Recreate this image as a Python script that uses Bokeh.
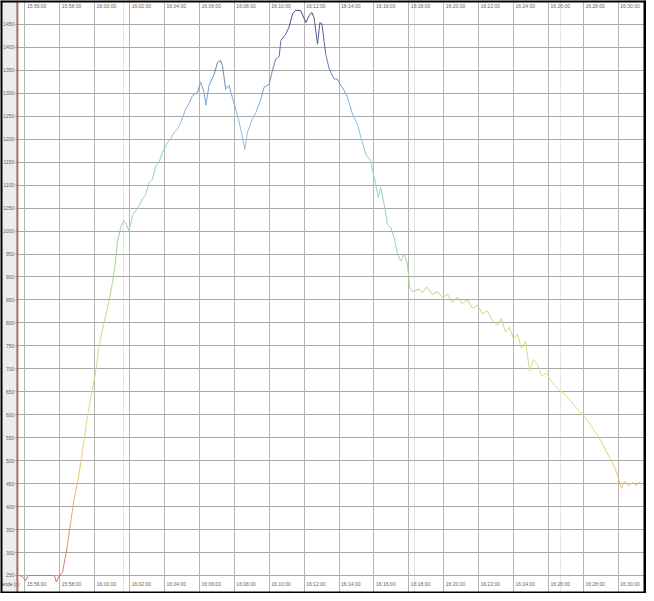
import numpy as np
import pandas as pd
from bokeh.plotting import figure
from bokeh.models import Range1d, FixedTicker, Grid, ColumnDataSource, Span
from bokeh.embed import file_html
from bokeh.resources import INLINE
from bokeh.core.properties import value

# ---- data ----
times = [
    "15:55:41", "15:55:51", "15:56:02", "15:56:12", "15:57:41", "15:57:48", "15:57:59",
    "15:58:09", "15:58:26", "15:58:37", "15:58:49", "15:59:01", "15:59:12", "15:59:24",
    "15:59:35", "15:59:52", "16:00:03", "16:00:15", "16:00:26", "16:00:38", "16:00:50",
    "16:01:01", "16:01:11", "16:01:18", "16:01:29", "16:01:41", "16:01:49", "16:01:58",
    "16:02:10", "16:02:33", "16:02:44", "16:02:54", "16:03:07", "16:03:18", "16:03:30",
    "16:03:41", "16:03:53", "16:04:10", "16:04:20", "16:04:33", "16:04:44", "16:04:56",
    "16:05:13", "16:05:26", "16:05:36", "16:05:53", "16:06:04", "16:06:16", "16:06:22",
    "16:06:33", "16:06:51", "16:07:02", "16:07:13", "16:07:19", "16:07:30", "16:07:42",
    "16:07:48", "16:08:05", "16:08:22", "16:08:36", "16:08:45", "16:09:02", "16:09:14",
    "16:09:31", "16:09:42", "16:10:00", "16:10:11", "16:10:22", "16:10:34", "16:10:40",
    "16:10:57", "16:11:08", "16:11:20", "16:11:31", "16:11:48", "16:12:06", "16:12:17",
    "16:12:26", "16:12:34", "16:12:46", "16:12:54", "16:13:01", "16:13:14", "16:13:26",
    "16:13:43", "16:13:54", "16:14:06", "16:14:18", "16:14:29", "16:14:46", "16:15:03",
    "16:15:15", "16:15:32", "16:15:49", "16:15:55", "16:16:06", "16:16:15", "16:16:23",
    "16:16:35", "16:16:46", "16:16:58", "16:17:09", "16:17:21", "16:17:32", "16:17:44",
    "16:17:55", "16:18:03", "16:18:12", "16:18:35", "16:18:47", "16:19:01", "16:19:21",
    "16:19:38", "16:19:56", "16:20:13", "16:20:30", "16:20:47", "16:21:04", "16:21:21",
    "16:21:39", "16:21:56", "16:22:13", "16:22:30", "16:22:47", "16:23:05", "16:23:18",
    "16:23:32", "16:23:46", "16:24:00", "16:24:13", "16:24:27", "16:24:41", "16:24:55",
    "16:25:08", "16:25:22", "16:25:36", "16:25:53", "16:26:14", "16:26:34", "16:26:55",
    "16:27:16", "16:27:36", "16:27:57", "16:28:18", "16:28:38", "16:28:59", "16:29:19",
    "16:29:40", "16:29:57", "16:30:11", "16:30:21", "16:30:35", "16:30:49", "16:31:03",
    "16:31:16",
]
altitude = [
    250, 248, 239, 250, 250, 236, 250,
    256, 315, 365, 416, 453, 496, 547,
    598, 656, 692, 750, 785, 816, 850,
    888, 930, 975, 1008, 1023, 1014, 1000,
    1034, 1056, 1070, 1078, 1106, 1113, 1142,
    1150, 1171, 1193, 1200, 1215, 1222, 1237,
    1266, 1280, 1295, 1302, 1324, 1302, 1274,
    1317, 1342, 1367, 1371, 1361, 1309, 1317,
    1302, 1266, 1222, 1178, 1215, 1244, 1258,
    1287, 1313, 1320, 1350, 1374, 1380, 1415,
    1429, 1444, 1473, 1481, 1480, 1454, 1469,
    1476, 1465, 1407, 1454, 1451, 1386, 1353,
    1331, 1331, 1317, 1306, 1291, 1255, 1233,
    1204, 1168, 1153, 1132, 1102, 1073, 1095,
    1059, 1015, 1008, 986, 950, 935, 950,
    928, 877, 868, 874, 866, 878, 862,
    868, 855, 862, 845, 856, 842, 850,
    832, 838, 820, 826, 805, 795, 810,
    780, 790, 765, 775, 745, 760, 695,
    720, 710, 685, 690, 670, 655, 645,
    630, 615, 600, 585, 565, 545, 520,
    495, 470, 440, 455, 445, 452, 446,
    455,
]
tick_times = [
    "15:56:00", "15:58:00", "16:00:00", "16:02:00", "16:04:00", "16:06:00",
    "16:08:00", "16:10:00", "16:12:00", "16:14:00", "16:16:00", "16:18:00",
    "16:20:00", "16:22:00", "16:24:00", "16:26:00", "16:28:00", "16:30:00",
]
alt_ticks = [250, 300, 350, 400, 450, 500, 550, 600, 650, 700, 750, 800, 850,
             900, 950, 1000, 1050, 1100, 1150, 1200, 1250, 1300, 1350, 1400, 1450]
y_title = "ende [m"

# colour scale by altitude
scale_alt = [250, 350, 450, 550, 650, 800, 900, 1000, 1100, 1250, 1350, 1480]
scale_col = ["#c07a64", "#e0a070", "#e8c070", "#e8d478", "#e4e080", "#c4dc88",
             "#a4d890", "#98d4a8", "#98d0d8", "#8cbcdc", "#6c88b8", "#444a78"]


def to_ms(t):
    return pd.Timestamp("2000-01-01 " + t).value / 1e6


x_ms = np.array([to_ms(t) for t in times])
alt = np.array(altitude, dtype=float)
tick_ms = [to_ms(t) for t in tick_times]

rgb = np.array([[int(c[i:i + 2], 16) for i in (1, 3, 5)] for c in scale_col], dtype=float)
mid = (alt[:-1] + alt[1:]) / 2
seg_colors = []
for m in mid:
    r, g, b = (np.interp(m, scale_alt, rgb[:, k]) for k in range(3))
    seg_colors.append("#%02x%02x%02x" % (int(r), int(g), int(b)))

src = ColumnDataSource(dict(x0=x_ms[:-1], y0=alt[:-1], x1=x_ms[1:], y1=alt[1:], c=seg_colors))

FONT = "Liberation Sans"
# view window (left part holds the grey scale strip)
x_lo, x_hi = to_ms("15:54:36"), to_ms("16:31:37")
axis_x = to_ms("15:55:34")          # where the scale strip ends
tick_len = 7000                      # ms, short tick marks left of the axis line
y_lo, y_hi = 210.8, 1502
label_row = 232                      # height of the bottom row of time labels

p = figure(
    width=646, height=593,
    output_backend="svg", toolbar_location=None,
    x_axis_location=None, y_axis_location=None,
    x_range=Range1d(x_lo, x_hi),
    y_range=Range1d(y_lo, y_hi),
    min_border_left=0, min_border_right=0, min_border_top=0, min_border_bottom=0,
    border_fill_color="white", background_fill_color="white",
    outline_line_color=None,
)

p.add_layout(Grid(dimension=1, ticker=FixedTicker(ticks=alt_ticks),
                  grid_line_color="#a8a8a8", grid_line_width=1))
p.add_layout(Grid(dimension=0, ticker=FixedTicker(ticks=tick_ms),
                  grid_line_color="#b4b4b4", grid_line_width=1))

# grey scale strip on the left, with its tick marks and altitude labels
p.quad(left=[x_lo], right=[axis_x], bottom=[y_lo], top=[y_hi],
       fill_color="#ededed", line_color=None)
p.segment(x0=[axis_x - tick_len] * len(alt_ticks), y0=alt_ticks,
          x1=[axis_x] * len(alt_ticks), y1=alt_ticks,
          line_color="#888888", line_width=1)
p.text(x=[axis_x] * len(alt_ticks), y=alt_ticks, text=[str(v) for v in alt_ticks],
       text_font=value(FONT), text_font_size="5px", text_color="#666666",
       text_align="right", text_baseline="middle", x_offset=-3)
p.text(x=[x_lo], y=[label_row], text=[y_title],
       text_font=value(FONT), text_font_size="5px", text_color="#555555",
       text_align="left", text_baseline="middle", x_offset=1)
p.add_layout(Span(location=axis_x, dimension="height", line_color="#a8706a", line_width=2))

# altitude trace
p.segment(x0="x0", y0="y0", x1="x1", y1="y1", color="c", line_width=1, source=src)

# time labels at top and bottom, inside the plot area
p.text(x=tick_ms, y=[1489] * len(tick_ms), text=tick_times,
       text_font=value(FONT), text_font_size="5px", text_color="#666666",
       text_align="left", text_baseline="middle", x_offset=2)
p.text(x=tick_ms, y=[label_row] * len(tick_ms), text=tick_times,
       text_font=value(FONT), text_font_size="5px", text_color="#666666",
       text_align="left", text_baseline="middle", x_offset=2)

# black frame around the whole picture
p.add_layout(Span(location=y_hi, dimension="width", line_color="black", line_width=4))
p.add_layout(Span(location=y_lo, dimension="width", line_color="black", line_width=4))
p.add_layout(Span(location=x_hi, dimension="height", line_color="black", line_width=6))
p.add_layout(Span(location=x_lo, dimension="height", line_color="black", line_width=4))

open("out.html", "w").write(file_html(p, INLINE))
